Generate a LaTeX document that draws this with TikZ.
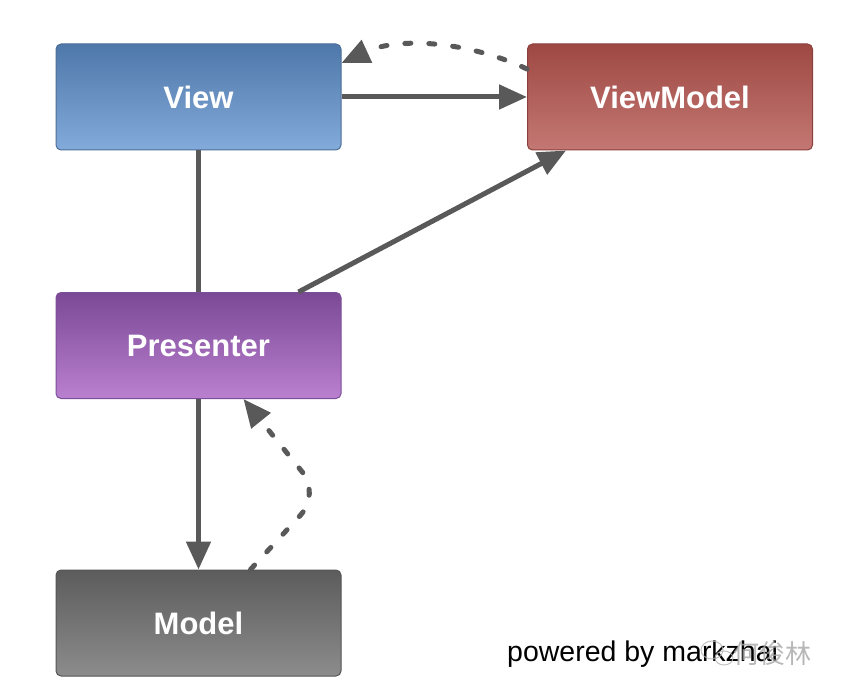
\documentclass[tikz,border=0pt]{standalone}
\usepackage{fontspec}
\setmainfont{Liberation Sans}
\newfontfamily\cjkfont{Noto Sans CJK SC}
\usetikzlibrary{arrows.meta}
\definecolor{linegray}{HTML}{595959}
\definecolor{viewtop}{HTML}{4F78AA}
\definecolor{viewbot}{HTML}{82AADA}
\definecolor{viewbd}{HTML}{4E6E98}
\definecolor{vmtop}{HTML}{9E4843}
\definecolor{vmbot}{HTML}{C47873}
\definecolor{vmbd}{HTML}{8A403C}
\definecolor{prtop}{HTML}{7A4995}
\definecolor{prbot}{HTML}{BA80D0}
\definecolor{prbd}{HTML}{7D4E98}
\definecolor{mdtop}{HTML}{5C5C5C}
\definecolor{mdbot}{HTML}{8C8C8C}
\definecolor{mdbd}{HTML}{555555}
\tikzset{
  box/.style={rounded corners=5pt, minimum width=285pt, minimum height=106pt,
    inner sep=0pt, line width=1pt, text=white,
    font=\fontsize{31}{34}\selectfont\bfseries},
  conn/.style={draw=linegray, line width=5pt},
  arr/.style={conn, -{Triangle[length=28pt,width=24pt]}},
  dasharr/.style={draw=linegray, line width=5pt, line cap=round,
    dash pattern=on 6pt off 18pt, -{Triangle[length=28pt,width=24pt]}},
}
\begin{document}
\begin{tikzpicture}[x=1pt,y=-1pt]
\useasboundingbox (0,0) rectangle (844,698);
\fill[white] (0,0) rectangle (844,698);
\node[box, draw=viewbd, top color=viewtop, bottom color=viewbot] (view) at (198.5,97) {View};
\node[box, draw=vmbd, top color=vmtop, bottom color=vmbot] (vm) at (670,97) {ViewModel};
\node[box, draw=prbd, top color=prtop, bottom color=prbot] (pres) at (198.5,345.5) {Presenter};
\node[box, draw=mdbd, top color=mdtop, bottom color=mdbot] (model) at (198.5,623) {Model};

\draw[arr] (view.east) -- (vm.west);
\draw[conn] (view.south) -- (pres.north);
\draw[arr] ([xshift=100pt]pres.north) -- ([xshift=-104pt]vm.south);
\draw[arr] (pres.south) -- (model.north);
\draw[dasharr] ([yshift=28pt]vm.west) .. controls (470,42) and (400,36) .. ([yshift=34pt]view.east);
\draw[dasharr, rounded corners=28pt] ([xshift=52pt]model.north) -- (320,494) -- ([xshift=45pt]pres.south);

\node[anchor=base west, inner sep=0pt, font=\fontsize{28.5}{30}\selectfont] (pow) at (507,661) {powered by markzhai};
\draw[black!30, line width=1pt, opacity=0.8] (712,650) ellipse [x radius=11pt, y radius=9pt]
  (724,658) ellipse [x radius=9pt, y radius=7pt];
\node[anchor=base west, inner sep=0pt, text=black!35, opacity=0.8, font=\cjkfont\fontsize{26}{30}\selectfont] (wm) at (733,663) {何俊林};
\end{tikzpicture}
\end{document}
